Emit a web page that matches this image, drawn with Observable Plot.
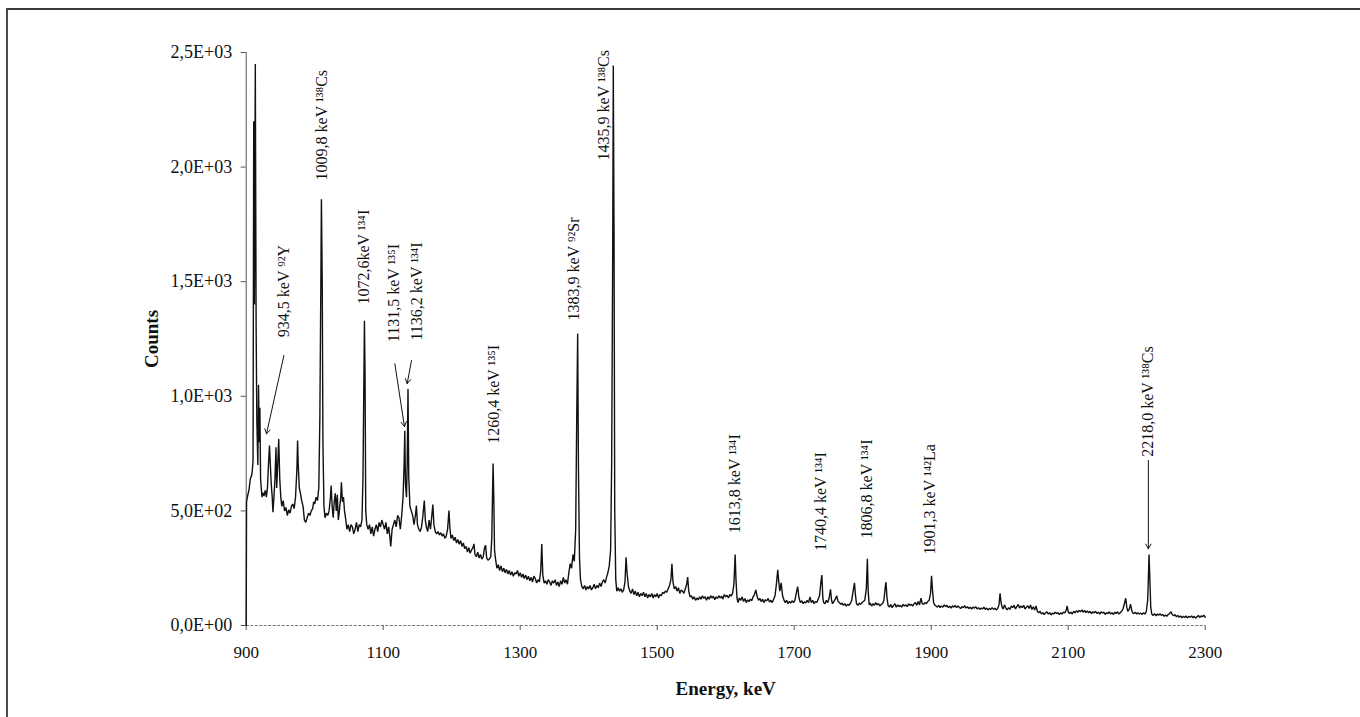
<!DOCTYPE html>
<html>
<head>
<meta charset="utf-8">
<script src="https://cdn.jsdelivr.net/npm/d3@7"></script>
<script src="https://cdn.jsdelivr.net/npm/@observablehq/plot@0.6"></script>
<style>
  html, body { margin: 0; padding: 0; background: #fff; }
  #wrap { position: relative; width: 1360px; height: 717px; overflow: hidden; }
  #frame { position: absolute; left: 6px; top: 8px; width: 1400px; height: 800px;
           border-top: 2px solid #3a3a3a; border-left: 2px solid #4a4a4a; pointer-events: none; }
  #chart { position: absolute; left: 0; top: 0; }
</style>
</head>
<body>
<div id="wrap"><div id="chart"></div><div id="frame"></div></div>
<script>
// ---- spectrum: [energy keV, counts] ----
const spec900 = [
  [900,0],[900.5,540],[902,565],[904,590],[906,640],[908,655],[909,680],[910,720],[911,2200],[912,1400],
  [913.3,2450],[914.5,1300],[915.5,900],[917,700],[918,1050],[919,800],[920,950],[921,640],[922,600],
  [923,560],[924,580],[926,565],[928,590],[929.5,560],[931,600],[932.5,700],[934,785],[935,720],
  [936.5,620],[938,560],[939,494],[940.5,560],[942,640],[943.5,778],[944.5,600],[946,700],[947.5,814],
  [949,640],[950.5,560],[952,520],[954,545],[956,500],[958,515],[960,480],[962,505],[964,490],[966,520],
  [968,530],[970,510],[972,560],[974,680],[975,807],[976,700],[977.5,600],[979,580],[981,545],[983,520],
  [985,460],[987,450],[989,470],[991,490],[993,480],[995,500],[997,510],[998.5,540],[1000,530]
];
const spec1000 = [
  [1002,560],[1004,545],[1006,600],[1007.5,900],[1009,1500],[1009.8,1860],[1011,1500],[1012,800],
  [1013.5,520],[1015,470],[1017,490],[1019,480],[1021,500],[1023,560],[1024,611],[1025.5,520],[1027,470],
  [1028.5,540],[1030,577],[1031.5,500],[1033,570],[1034.5,460],[1036,500],[1038,560],[1039,625],
  [1040.5,540],[1042,560],[1043.5,500],[1045,470],[1047,420],[1049,440],[1051,410],[1053,440],[1055,430],
  [1057,400],[1059,420],[1061,450],[1063,410],[1065,440],[1067,430],[1069,460],[1070.5,650],[1072.6,1330],
  [1073.5,1100],[1074.5,500],[1076,440],[1078,420],[1080,440],[1082,400],[1084,430],[1086,390],[1088,420],
  [1090,440],[1092,410],[1094,450],[1096,430],[1098,460],[1100,440]
];
const spec1100 = [
  [1102,420],[1104,450],[1106,400],[1108,430],[1110,380],[1111,345],[1113,420],[1115,440],[1117,460],
  [1119,430],[1121,480],[1123,470],[1125,420],[1127,480],[1129,560],[1130.5,700],[1131.5,850],[1132.5,620],
  [1134,560],[1135,700],[1136.2,1032],[1137.3,650],[1139,520],[1141,500],[1143,480],[1145,440],[1147,480],
  [1148.5,523],[1150,440],[1152,420],[1154,410],[1156,430],[1158,480],[1160,545],[1161.5,460],[1163,430],
  [1165,410],[1167,460],[1169,420],[1171,480],[1172.5,528],[1174,440],[1176,410],[1178,400],[1180,410],
  [1182,395],[1184,405],[1186,390],[1188,400],[1190,380],[1192,390],[1194,420],[1196,502],[1197.5,420],
  [1199,380],[1201,395],[1203,370],[1205,385],[1207,360],[1209,375],[1211,355],[1213,370],[1215,345],
  [1217,360],[1219,335],[1221,345],[1223,320],[1225,340],[1227,315],[1229,330],[1231,340],[1232.5,356],
  [1234,310],[1236,300],[1238,320],[1240,295],[1242,310],[1244,290],[1246,300],[1248,340],[1249.5,350],
  [1251,295],[1253,285],[1255,290],[1257,300],[1258.5,380],[1260.4,707],[1261.5,550],[1262.5,330],
  [1264,290],[1266,250],[1268,265],[1270,240],[1272,260],[1274,235],[1276,250],[1278,230],[1280,245],
  [1282,225],[1284,240],[1286,220],[1288,235],[1290,215],[1292,230],[1294,225],[1296,240],[1298,215],[1300,230]
];
const spec1300 = [
  [1302,210],[1304,225],[1306,205],[1308,220],[1310,200],[1312,215],[1314,195],[1316,210],[1318,190],
  [1320,215],[1322,205],[1324,185],[1326,200],[1328,190],[1330,240],[1331.5,356],[1333,220],[1335,185],
  [1337,195],[1339,180],[1341,200],[1343,190],[1345,175],[1347,195],[1349,185],[1351,200],[1353,175],
  [1355,190],[1357,170],[1359,195],[1361,180],[1363,210],[1365,185],[1367,200],[1369,180],[1371,230],
  [1373,270],[1375,250],[1377,310],[1379,280],[1381,420],[1382.5,900],[1383.9,1274],[1385,700],[1386.5,300],
  [1388,200],[1390,170],[1392,160],[1394,175],[1396,155],[1398,170],[1400,160],[1402,175],[1404,155],
  [1406,165],[1408,180],[1410,160],[1412,175],[1414,165],[1416,185],[1418,170],[1420,190],[1422,200],
  [1424,185],[1426,210],[1428,230],[1430,260],[1432,330],[1433.5,700],[1435,1600],[1435.9,2443],[1437,1700],
  [1438,500],[1439.5,200],[1441,150],[1443,165],[1445,150],[1447,160],[1449,145],[1451,155],[1453,190],
  [1454.5,298],[1456,230],[1458,170],[1460,150],[1462,140],[1464,160],[1466,135],[1468,150],[1470,130],
  [1472,145],[1474,125],[1476,140],[1478,130],[1480,145],[1482,125],[1484,140],[1486,120],[1488,135],
  [1490,125],[1492,140],[1494,120],[1496,135],[1498,125],[1500,140]
];
const spec1500 = [
  [1502,120],[1504,135],[1506,130],[1508,145],[1510,140],[1512,150],[1514,145],[1516,160],[1518,175],
  [1520,200],[1521.5,269],[1523,190],[1525,160],[1527,170],[1529,150],[1531,165],[1533,140],[1535,155],
  [1537,150],[1539,140],[1541,160],[1543,180],[1544.5,211],[1546,150],[1548,125],[1550,130],[1552,115],
  [1554,125],[1556,110],[1558,120],[1560,112],[1562,125],[1564,115],[1566,130],[1568,118],[1570,126],
  [1572,110],[1574,125],[1576,115],[1578,130],[1580,120],[1582,128],[1584,112],[1586,125],[1588,118],
  [1590,130],[1592,120],[1594,128],[1596,115],[1598,135],[1600,125],[1602,132],[1604,120],[1606,135],
  [1608,128],[1610,140],[1612,180],[1613.8,310],[1615,200],[1616.5,120],[1618,100],[1620,120],[1622,110],
  [1624,125],[1626,105],[1628,118],[1630,100],[1632,112],[1634,104],[1636,115],[1638,108],[1640,125],
  [1642,135],[1644,155],[1646,125],[1648,110],[1650,118],[1652,104],[1654,115],[1656,100],[1658,112],
  [1660,108],[1662,118],[1664,102],[1666,110],[1668,100],[1670,115],[1672,130],[1674,180],[1676,243],
  [1677.5,190],[1679,150],[1681,186],[1683,130],[1685,112],[1687,100],[1689,110],[1691,95],[1693,105],
  [1695,98],[1697,108],[1699,100],[1701,110],[1703,140],[1705,170],[1707,120],[1709,100],[1711,108],
  [1713,95],[1715,104],[1717,98],[1719,110],[1721,100],[1723,125],[1725,100],[1727,110],[1729,95],
  [1731,105],[1733,100],[1735,115],[1737,130],[1739,190],[1740.4,220],[1741.8,120],[1743,100],[1745,95],
  [1747,110],[1749,100],[1751,120],[1753,158],[1754.5,110],[1756,95],[1758,105],[1760,115],[1762,130],
  [1764,105],[1766,100],[1768,92],[1770,98],[1772,88],[1774,95],[1776,85],[1778,92],[1780,88],[1782,96],
  [1784,110],[1786,150],[1788,186],[1789.5,130],[1791,95],[1793,88],[1795,98],[1797,92],[1799,100],
  [1801,105],[1803,110],[1805.3,160],[1806.8,291],[1808,150],[1809.5,90],[1811,98],[1813,85],[1815,95],
  [1817,88],[1819,100],[1821,90],[1823,96],[1825,85],[1827,92],[1829,95],[1831,110],[1833,170],[1834,189],
  [1835.5,120],[1837,88],[1839,80],[1841,92],[1843,78],[1845,88],[1847,95],[1849,80],[1851,90],[1853,82],
  [1855,88],[1857,80],[1859,92],[1861,85],[1863,90],[1865,82],[1867,95],[1869,88],[1871,92],[1873,85],
  [1875,95],[1877,100],[1879,88],[1881,105],[1883,90],[1885,119],[1887,95],[1889,92],[1891,100],[1893,95],
  [1895,105],[1897,110],[1899,140],[1900.5,217],[1902,150],[1903.5,100],[1905,90],[1907,85]
];
const spec1900 = [
  [1909,80],[1911,88],[1913,78],[1915,85],[1917,80],[1919,90],[1921,82],[1923,88],[1925,78],[1927,84],
  [1929,76],[1931,86],[1933,80],[1935,88],[1937,78],[1939,85],[1941,80],[1943,74],[1945,82],[1947,78],
  [1949,86],[1951,76],[1953,82],[1955,74],[1957,80],[1959,72],[1961,80],[1963,76],[1965,82],[1967,72],
  [1969,78],[1971,70],[1973,76],[1975,72],[1977,80],[1979,70],[1981,76],[1983,68],[1985,74],[1987,70],
  [1989,78],[1991,70],[1993,75],[1995,68],[1997,74],[1999,90],[2000.5,140],[2002,100],[2003.5,80],
  [2005,72],[2007,90],[2009,75],[2011,68],[2013,78],[2015,70],[2017,85],[2019,78],[2021,88],[2023,72],
  [2025,82],[2027,92],[2029,76],[2031,85],[2033,78],[2035,88],[2037,72],[2039,80],[2041,86],[2043,74],
  [2045,90],[2047,70],[2049,82],[2051,68],[2053,85],[2055,62],[2057,56],[2059,62],[2061,50],[2063,56],
  [2065,48],[2067,55],[2069,60],[2071,50],[2073,56],[2075,46],[2077,54],[2079,50],[2081,58],[2083,52],
  [2085,56],[2087,48],[2089,55],[2091,50],[2093,58],[2095,55],[2097,66],[2098.5,85],[2100,60]
];
const spec2100 = [
  [2102,52],[2104,58],[2106,50],[2108,62],[2110,55],[2112,64],[2114,58],[2116,66],[2118,60],[2120,68],
  [2122,58],[2124,66],[2126,56],[2128,64],[2130,55],[2132,62],[2134,52],[2136,60],[2138,55],[2140,62],
  [2142,52],[2144,58],[2146,50],[2148,60],[2150,54],[2152,58],[2154,48],[2156,56],[2158,52],[2160,60],
  [2162,50],[2164,56],[2166,48],[2168,58],[2170,52],[2172,60],[2174,50],[2176,56],[2178,62],[2180,72],
  [2182,95],[2184,119],[2185.5,80],[2187,62],[2189,70],[2191,93],[2192.5,70],[2194,55],[2196,52],[2198,58],
  [2200,50],[2202,56],[2204,50],[2206,54],[2208,48],[2210,56],[2212,50],[2214,60],[2216,110],[2217,200],
  [2218,310],[2219,220],[2220.5,80],[2222,50],[2224,44],[2226,52],[2228,42],[2230,50],[2232,45],[2234,52],
  [2236,44],[2238,48],[2240,40],[2242,46],[2244,40],[2246,48],[2248,52],[2250,60],[2252,48],[2254,42],
  [2256,48],[2258,38],[2260,44],[2262,36],[2264,42],[2266,34],[2268,40],[2270,35],[2272,42],[2274,33],
  [2276,40],[2278,36],[2280,42],[2282,34],[2284,40],[2286,32],[2288,38],[2290,44],[2292,35],[2294,42],
  [2296,38],[2298,45],[2300,36]
];

// ---- peak labels ----
const labelText = ["934,5 keV \u2079\u00B2Y", "1009,8 keV \u00B9\u00B3\u2078Cs", "1072,6keV \u00B9\u00B3\u2074I",
  "1131,5 keV \u00B9\u00B3\u2075I", "1136,2 keV \u00B9\u00B3\u2074I", "1260,4 keV \u00B9\u00B3\u2075I",
  "1383,9 keV \u2079\u00B2Sr", "1435,9 keV \u00B9\u00B3\u2078Cs", "1613,8 keV \u00B9\u00B3\u2074I",
  "1740,4 keV \u00B9\u00B3\u2074I", "1806,8 keV \u00B9\u00B3\u2074I", "1901,3 keV \u00B9\u2074\u00B2La",
  "2218,0 keV \u00B9\u00B3\u2078Cs"];
const labelEnergy = [955, 1011, 1072, 1115.5, 1149.5, 1261.5, 1378, 1422, 1613, 1739, 1806, 1898, 2217];
const labelCounts = [1258, 1942, 1400, 1236, 1243, 793, 1331, 2029, 403, 325, 380, 310, 736];

// ---- arrows ----
const arrowFromE = [955, 1117, 1141.3, 2217];
const arrowFromC = [1178, 1142, 1156, 720];
const arrowToE = [929.6, 1131, 1135, 2217];
const arrowToC = [836, 868, 1055, 335];

// ---- axes ----
const xTicks = [900, 1100, 1300, 1500, 1700, 1900, 2100, 2300];
const yTicks = [0, 500, 1000, 1500, 2000, 2500];

const spectrum = [...spec900, ...spec1000, ...spec1100, ...spec1300, ...spec1500, ...spec1900, ...spec2100]
  .map(([e, c]) => ({e, c}));
const labels = labelText.map((t, i) => ({t, e: labelEnergy[i], c: labelCounts[i]}));
const arrows = arrowFromE.map((_, i) => ({x1: arrowFromE[i], y1: arrowFromC[i], x2: arrowToE[i], y2: arrowToC[i]}));

const fmtY = d => d.toExponential(1).replace(".", ",").replace(/e\+(\d)$/, "E+0$1").replace(/e\+(\d\d)$/, "E+$1");
const serif = "'Liberation Serif', 'Times New Roman', serif";

const chart = Plot.plot({
  width: 1360,
  height: 717,
  marginLeft: 245.7,
  marginRight: 155.3,
  marginTop: 52,
  marginBottom: 92,
  style: {fontFamily: serif, color: "#111", background: "transparent"},
  x: {domain: [900, 2300]},
  y: {domain: [0, 2500]},
  marks: [
    Plot.ruleY([0], {stroke: "#777", strokeWidth: 1, strokeDasharray: "3,1.5"}),
    Plot.ruleX([900], {stroke: "#555", strokeWidth: 1}),
    Plot.axisX({ticks: xTicks, tickFormat: d3.format("d"), tickSize: 5, tickPadding: 15, fontSize: 17, label: null, stroke: "#555"}),
    Plot.axisY({ticks: yTicks, tickFormat: fmtY, tickSize: 5, tickPadding: 9, fontSize: 18, label: null, stroke: "#555"}),
    Plot.line(spectrum, {x: "e", y: "c", stroke: "#111", strokeWidth: 1.4, strokeLinejoin: "miter"}),
    Plot.arrow(arrows, {x1: "x1", y1: "y1", x2: "x2", y2: "y2", stroke: "#111", strokeWidth: 1, headLength: 8}),
    Plot.text(labels, {x: "e", y: "c", text: "t", rotate: -90, textAnchor: "start", lineAnchor: "middle",
      fontSize: 16, fill: "#111"}),
    Plot.text(["Counts"], {frameAnchor: "left", dx: -94, rotate: -90, textAnchor: "middle", lineAnchor: "middle",
      fontSize: 19, fontWeight: "bold", fill: "#111"}),
    Plot.text(["Energy, keV"], {frameAnchor: "bottom", dy: 63, textAnchor: "middle", lineAnchor: "middle",
      fontSize: 19, fontWeight: "bold", fill: "#111"})
  ]
});
document.getElementById("chart").appendChild(chart);
</script>
</body>
</html>
